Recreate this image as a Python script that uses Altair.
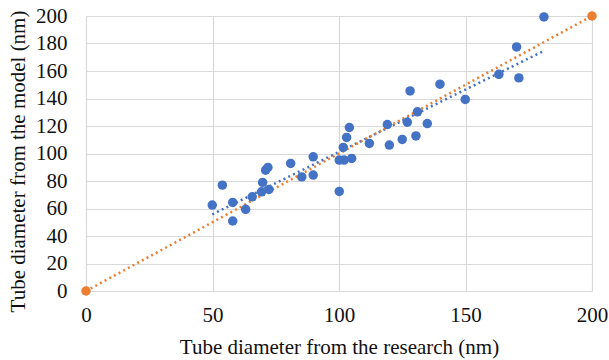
import altair as alt
import pandas as pd

# Measured tube diameters (nm): literature value vs. model prediction
research_nm = [49.9, 53.9, 58.0, 58.0, 63.1, 65.7, 69.8, 69.4, 71.0, 71.9,
               72.3, 80.9, 85.3, 89.8, 89.8, 100.1, 100.1, 102.0, 105.0, 101.7,
               103.0, 104.1, 112.0, 119.1, 119.9, 125.0, 127.0, 128.1, 130.4, 131.0,
               134.9, 139.9, 149.9, 163.2, 170.2, 171.1, 181.0]
model_nm = [62.5, 77.0, 64.4, 50.9, 59.4, 68.5, 79.0, 72.1, 87.9, 89.9,
            73.9, 92.8, 83.0, 97.6, 84.3, 72.4, 95.2, 95.2, 96.4, 104.4,
            111.7, 118.9, 107.3, 121.1, 106.1, 110.2, 122.8, 145.5, 112.8, 130.3,
            121.8, 150.4, 139.3, 157.6, 177.5, 155.0, 199.3]

# Identity reference line y = x
ref_research = [0, 200]
ref_model = [0, 200]

BLUE = "#4472C4"
ORANGE = "#ED7D31"
FONT = "'Liberation Serif', 'Times New Roman', 'DejaVu Serif', serif"

pts = pd.DataFrame({"research": research_nm, "model": model_nm})
ref = pd.DataFrame({"research": ref_research, "model": ref_model})

x_scale = alt.Scale(domain=[0, 200], nice=False, zero=True)
y_scale = alt.Scale(domain=[0, 200], nice=False, zero=True)

x_enc = alt.X("research:Q", scale=x_scale,
              axis=alt.Axis(values=[0, 50, 100, 150, 200],
                            title="Tube diameter from the research (nm)",
                            labelFlush=False, labelPadding=13, titlePadding=11))
y_enc = alt.Y("model:Q", scale=y_scale,
              axis=alt.Axis(values=list(range(0, 201, 20)),
                            title="Tube diameter from the model (nm)",
                            labelFlush=False, labelPadding=19, titlePadding=7,
                            titleY=145))

trend = (
    alt.Chart(pts)
    .transform_regression("research", "model")
    .mark_line(color=BLUE, strokeDash=[2, 3.3], strokeWidth=2.5)
    .encode(x=x_enc, y=y_enc)
)

identity_line = (
    alt.Chart(ref)
    .mark_line(color=ORANGE, strokeDash=[2, 3.3], strokeWidth=2.5)
    .encode(x=x_enc, y=y_enc)
)

identity_pts = (
    alt.Chart(ref)
    .mark_circle(color=ORANGE, size=90, opacity=1)
    .encode(x=x_enc, y=y_enc)
)

scatter = (
    alt.Chart(pts)
    .mark_circle(color=BLUE, size=90, opacity=1)
    .encode(x=x_enc, y=y_enc)
)

chart = (
    alt.layer(trend, identity_line, scatter, identity_pts)
    .properties(
        width=506,
        height=275,
        autosize=alt.AutoSizeParams(type="none"),
        padding={"left": 86, "top": 16, "right": 17, "bottom": 69},
    )
    .configure_view(stroke=None)
    .configure_axis(
        domain=False,
        ticks=False,
        grid=True,
        gridColor="#D9D9D9",
        gridWidth=1.2,
        labelFont=FONT,
        labelFontSize=21,
        labelColor="#111111",
        titleFont=FONT,
        titleFontSize=21,
        titleFontWeight="normal",
        titleColor="#111111",
    )
)

chart.save("out.html", embed_options={"renderer": "svg", "actions": False})
